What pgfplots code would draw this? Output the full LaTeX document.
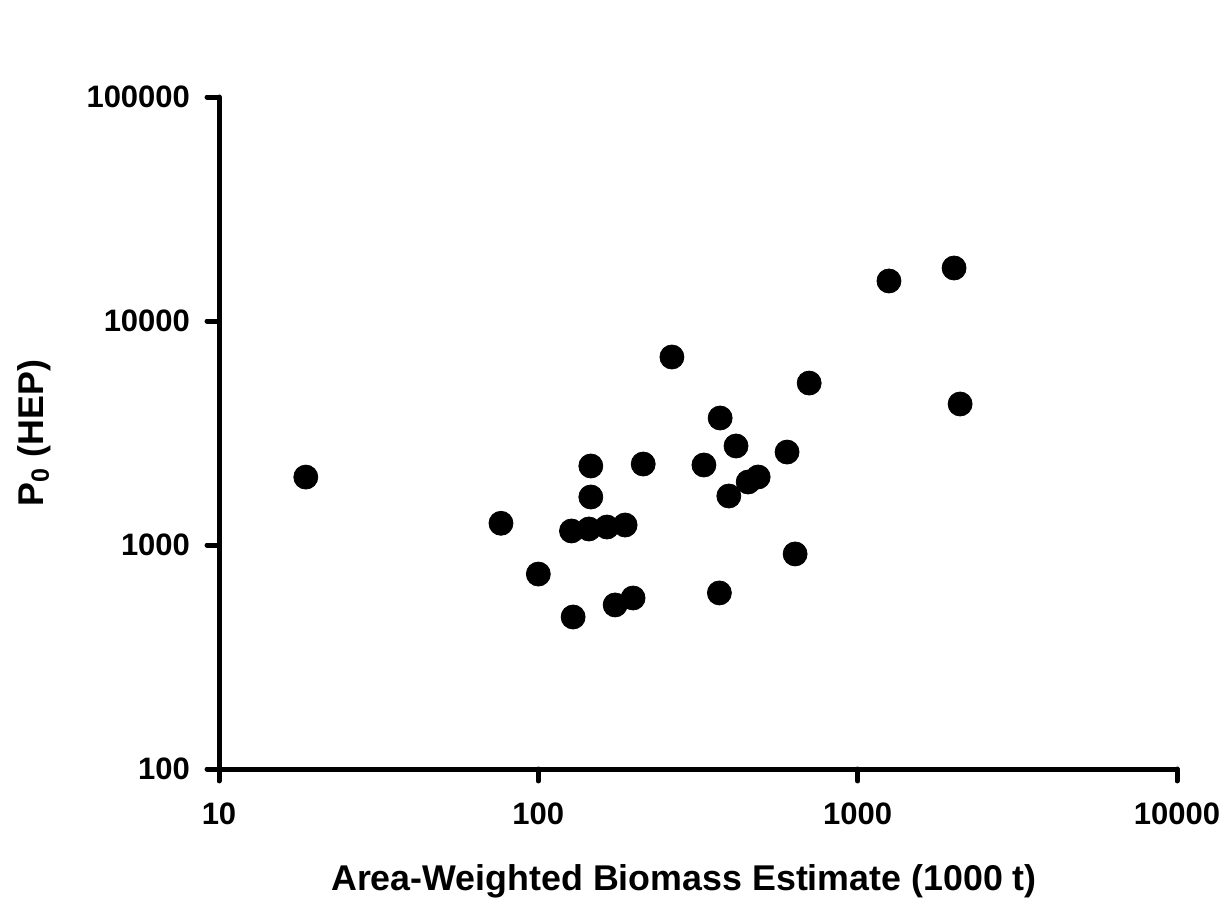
\documentclass[border=0pt]{standalone}
\usepackage{fontspec}
\setmainfont{Liberation Sans}
\usepackage{pgfplots}
\pgfplotsset{compat=1.18}

\begin{document}
\begin{tikzpicture}
\begin{axis}[
  scale only axis,
  width=479pt, height=336pt,
  xmode=log, ymode=log,
  xmin=10, xmax=10000, ymin=100, ymax=100000,
  axis lines*=left,
  axis line style={line width=2.5pt, line cap=round},
  tick align=outside,
  major tick length=6pt,
  every tick/.style={black, line width=2.5pt, line cap=round},
  xminorticks=false, yminorticks=false,
  xtick={10,100,1000,10000},
  xticklabels={10,100,1000,10000},
  ytick={100,1000,10000,100000},
  yticklabels={100,1000,10000,100000},
  /pgf/number format/assume math mode=true,
  ticklabel style={font=\fontsize{15.5}{18}\selectfont\bfseries},
  xticklabel style={yshift=-7.5pt},
  yticklabel style={xshift=-5pt},
  xlabel={Area-Weighted Biomass Estimate (1000 t)},
  ylabel={P\textsubscript{0} (HEP)},
  label style={font=\fontsize{17.9}{21}\selectfont\bfseries},
  xlabel style={yshift=-13pt, xshift=-7pt},
  ylabel style={yshift=11pt},
]
\addplot[only marks, mark=*, mark size=6pt, black] table {
x y
18.7 2010
76.4 1250
100 742
128.5 477
127 1155
144 1179
146 2253
146 1638
164 1203
187 1228
174 540
198 580
213 2299
262 6908
330 2276
371 3690
369 611
416 2767
395 1655
454 1911
488 2012
601 2600
637 912
705 5284
1253 15090
2004 17245
2093 4261
};
\end{axis}
\path[use as bounding box] (-109.5pt,-66.5pt) rectangle (505.5pt,384.5pt);
\end{tikzpicture}
\end{document}
